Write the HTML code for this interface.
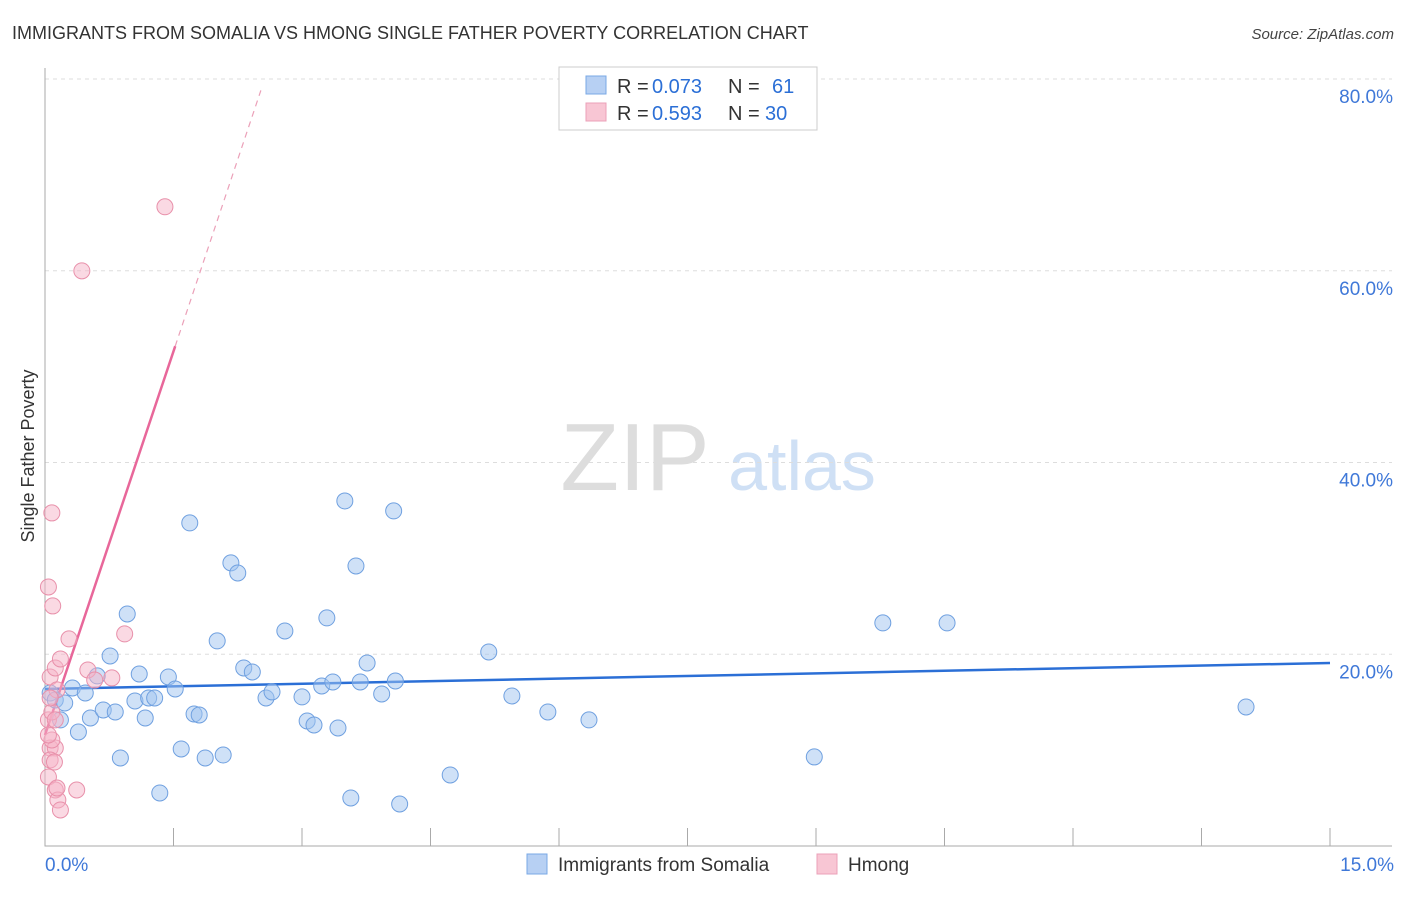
<!DOCTYPE html>
<html><head><meta charset="utf-8"><style>
body{margin:0;background:#fff;font-family:"Liberation Sans",sans-serif;}
svg text{font-family:"Liberation Sans",sans-serif;}
</style></head><body>
<svg id="chart" width="1406" height="892" viewBox="0 0 1406 892" xmlns="http://www.w3.org/2000/svg">
<text x="12" y="39" font-size="18" fill="#333">IMMIGRANTS FROM SOMALIA VS HMONG SINGLE FATHER POVERTY CORRELATION CHART</text>
<text x="1394" y="39" font-size="15" fill="#444" text-anchor="end" font-style="italic">Source: ZipAtlas.com</text>
<text transform="translate(34,456) rotate(-90)" font-size="18" fill="#333" text-anchor="middle">Single Father Poverty</text>
<g>
<text x="635" y="490" font-size="96" fill="#ddd" font-family="Liberation Serif,serif" text-anchor="middle">ZIP</text>
<text x="802" y="490" font-size="70" fill="#cfe0f5" text-anchor="middle">atlas</text>
</g>
<g id="grid"></g>
<g id="axes"></g>
<g id="lines"></g>
<g id="pts"></g>
<g>
<rect x="559" y="67" width="258" height="63" fill="#fff" stroke="#ccc"/>
<rect x="586" y="76" width="20" height="18" fill="#b7d0f3" stroke="#7aa8e6"/>
<text x="617" y="93" font-size="20" fill="#333">R =</text>
<text x="652" y="93" font-size="20" fill="#2b6fd6">0.073</text>
<text x="728" y="93" font-size="20" fill="#333">N =</text>
<text x="772" y="93" font-size="20" fill="#2b6fd6">61</text>
<rect x="586" y="103" width="20" height="18" fill="#f8c6d4" stroke="#eba0b8"/>
<text x="617" y="120" font-size="20" fill="#333">R =</text>
<text x="652" y="120" font-size="20" fill="#2b6fd6">0.593</text>
<text x="728" y="120" font-size="20" fill="#333">N =</text>
<text x="765" y="120" font-size="20" fill="#2b6fd6">30</text>
</g>
<g>
<rect x="527" y="854" width="20" height="20" fill="#b7d0f3" stroke="#7aa8e6"/>
<text x="558" y="871" font-size="19" fill="#333">Immigrants from Somalia</text>
<rect x="817" y="854" width="20" height="20" fill="#f8c6d4" stroke="#eba0b8"/>
<text x="848" y="871" font-size="19" fill="#333">Hmong</text>
</g>
</svg>
<script>
const somaliaX=[0.06,0.12,0.18,0.23,0.32,0.39,0.47,0.53,0.61,0.68,0.76,0.82,0.88,0.96,1.05,1.10,1.17,1.21,1.28,1.34,1.44,1.52,1.59,1.69,1.74,1.80,1.87,2.01,2.08,2.17,2.25,2.32,2.42,2.58,2.65,2.80,3.00,3.06,3.14,3.23,3.29,3.36,3.42,3.50,3.57,3.63,3.68,3.76,3.93,4.07,4.09,4.14,4.73,5.18,5.45,5.87,6.35,8.98,9.78,10.53,14.02];
const somaliaY=[15.96,15.23,13.15,14.92,16.48,11.89,15.96,13.35,17.74,14.19,19.82,13.98,9.18,24.20,15.13,17.94,13.35,15.44,15.44,5.53,17.63,16.38,10.12,33.70,13.77,13.67,9.18,21.39,9.49,29.53,28.48,18.57,18.15,15.44,16.07,22.43,15.55,13.04,12.62,16.69,23.79,17.11,12.31,35.99,5.01,29.21,17.11,19.09,15.86,34.95,17.21,4.38,7.41,20.24,15.65,13.98,13.15,9.29,23.27,23.27,14.50];
const hmongX=[0.04,0.08,0.09,0.06,0.12,0.14,0.18,0.28,0.04,0.08,0.12,0.06,0.12,0.06,0.11,0.04,0.12,0.15,0.18,0.14,0.37,0.50,0.58,0.78,0.93,0.43,1.40,0.06,0.08,0.04];
const hmongY=[27.02,34.74,25.04,17.63,18.57,16.28,19.51,21.60,13.15,13.98,13.15,10.22,10.22,8.97,8.76,7.20,5.84,4.80,3.76,6.05,5.84,18.36,17.32,17.53,22.12,59.99,66.67,15.44,11.06,11.58];
const yTicks=[20,40,60,80];
const xTickLabels=["0.0%","15.0%"];
const somaliaTrend=[16.38,19.09];
const hmongTrend=[11.58,26.68];
const NS="http://www.w3.org/2000/svg";
const X0=45,X1=1330,Y0=846,Y80=79;
const sx=v=>X0+(X1-X0)*v/15;
const sy=v=>Y0-(Y0-Y80)*v/80;
function mk(t,a,p){const e=document.createElementNS(NS,t);for(const k in a)e.setAttribute(k,a[k]);p.appendChild(e);return e;}
const grid=document.getElementById('grid'),axes=document.getElementById('axes'),lines=document.getElementById('lines'),pts=document.getElementById('pts');
yTicks.forEach(v=>{
 const l=mk('line',{x1:45,x2:1392,y1:sy(v),y2:sy(v),stroke:'#ddd','stroke-dasharray':'4,4'},grid);
 
 
 const t=mk('text',{x:1393,y:sy(v)+24,'font-size':19,fill:'#3f78d8','text-anchor':'end'},grid);
 t.textContent=v.toFixed(1)+'%';
 
 
});
const ax=mk('path',{d:`M45 68V846H1392`,stroke:'#aaa',fill:'none'},axes);


for(let i=1;i<=10;i++){
 const tk=mk('line',{x1:sx(i*1.5),x2:sx(i*1.5),y1:828,y2:846,stroke:'#aaa'},axes);
 
 
}
[[0,45,'start'],[1,1394,'end']].forEach(([i,x,a])=>{
 const t=mk('text',{x:x,y:871,'font-size':19,fill:'#3f78d8','text-anchor':a},axes);
 t.textContent=xTickLabels[i];
 
 
});
const bl=mk('line',{x1:sx(0),y1:sy(somaliaTrend[0]),x2:sx(15),y2:sy(somaliaTrend[1]),stroke:'#2b6fd6','stroke-width':2.5},lines);


const ph=x=>hmongTrend[0]+hmongTrend[1]*x;
const pl=mk('line',{x1:sx(0),y1:sy(ph(0)),x2:sx(1.52),y2:sy(ph(1.52)),stroke:'#e8679a','stroke-width':2.5},lines);


const pd=mk('line',{x1:sx(1.52),y1:sy(ph(1.52)),x2:sx(2.52),y2:sy(ph(2.52)),stroke:'#eba0b8','stroke-width':1.2,'stroke-dasharray':'6,5'},lines);


somaliaX.forEach((x,i)=>{
 const c=mk('circle',{cx:sx(x),cy:sy(somaliaY[i]),r:8,fill:'rgba(160,195,240,0.5)',stroke:'#6fa0e0','stroke-width':1},pts);
 
 
});
hmongX.forEach((x,i)=>{
 const c=mk('circle',{cx:sx(x),cy:sy(hmongY[i]),r:8,fill:'rgba(245,180,200,0.5)',stroke:'#e890aa','stroke-width':1},pts);
 
 
});
</script>
</body></html>
